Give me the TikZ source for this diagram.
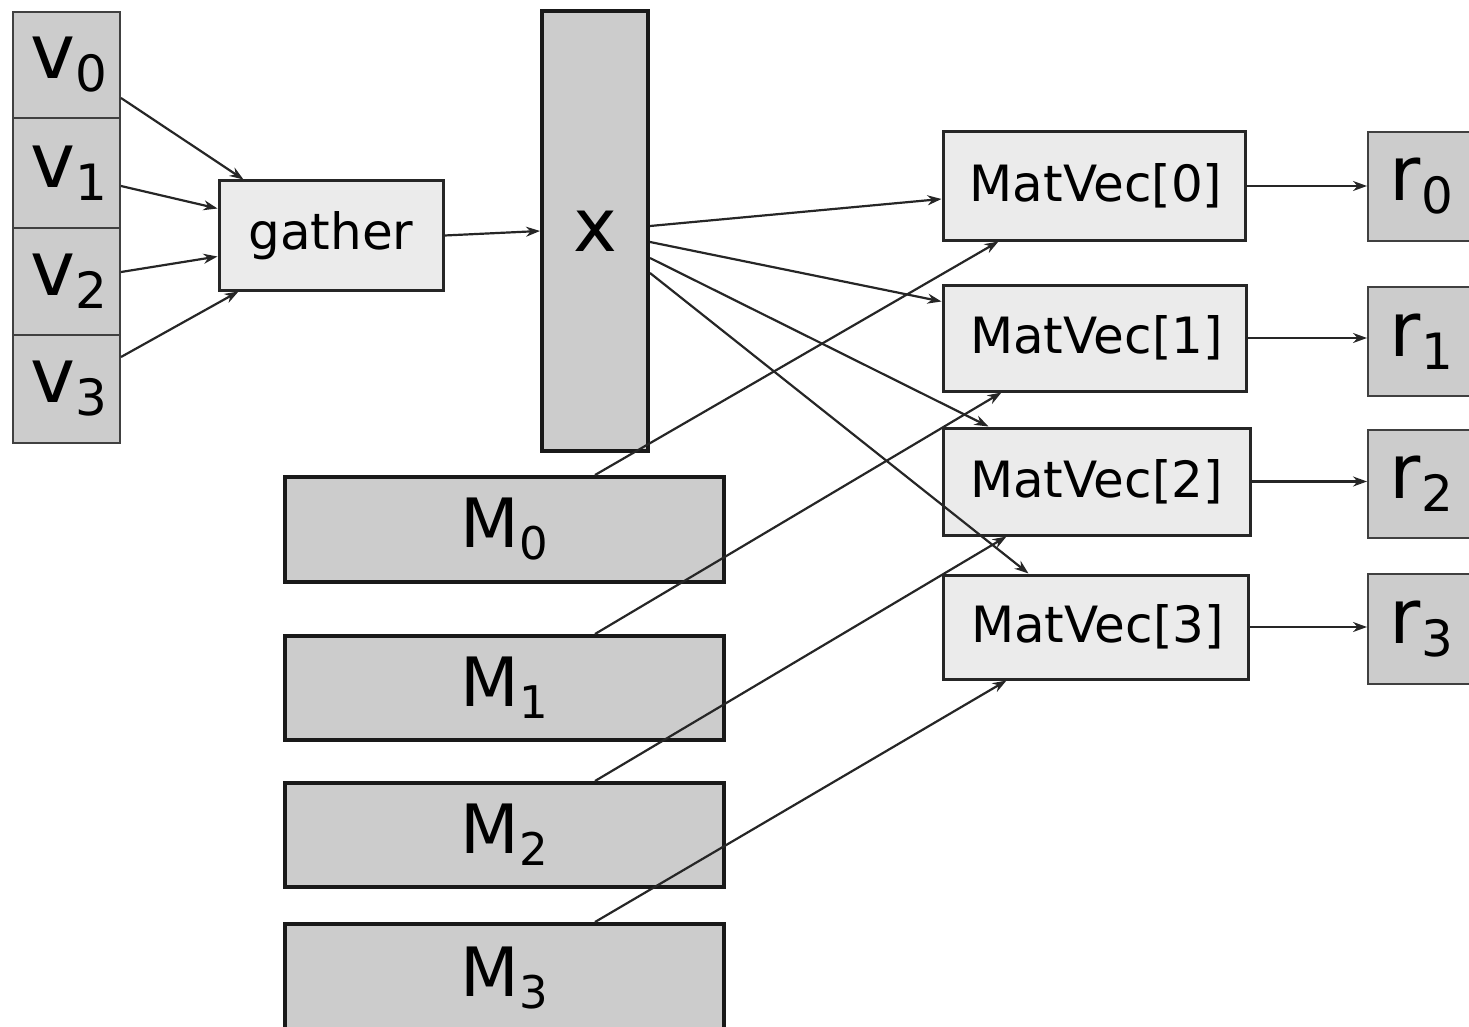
\documentclass[tikz,border=0pt]{standalone}
\usepackage{fontspec}
\setmainfont{DejaVu Sans}
\usetikzlibrary{arrows.meta}
\definecolor{cdark}{HTML}{CCCCCC}
\definecolor{clight}{HTML}{EBEBEB}
\newcommand\vlab[1]{{\fontsize{76}{80}\selectfont v\raisebox{-13pt}{\fontsize{50}{50}\selectfont #1}}}
\newcommand\rlab[1]{{\fontsize{76}{80}\selectfont r\raisebox{-13pt}{\fontsize{50}{50}\selectfont #1}}}
\newcommand\mlab[1]{{\fontsize{68}{72}\selectfont M\raisebox{-12pt}{\fontsize{45}{45}\selectfont #1}}}
\begin{document}
\begin{tikzpicture}[x=1pt,y=-1pt,
  cellbox/.style={draw=black!75, line width=2pt, fill=cdark, minimum width=107pt, inner sep=0pt},
  procbox/.style={draw=black!85, line width=3pt, fill=clight, inner sep=0pt, font=\fontsize{50}{56}\selectfont},
  databox/.style={draw=black!90, line width=4pt, fill=cdark, inner sep=0pt},
  conn/.style={line width=2.2pt, draw=black!85, -{Stealth[length=14pt,width=10pt]}}
]
\useasboundingbox (0,0) rectangle (1469,1027);
% v cells
\node[cellbox, minimum height=106pt] (v0) at (66.5,65) {\hspace{4pt}\vlab{0}};
\node[cellbox, minimum height=110pt] (v1) at (66.5,173) {\hspace{4pt}\vlab{1}};
\node[cellbox, minimum height=107pt] (v2) at (66.5,281.5) {\hspace{4pt}\vlab{2}};
\node[cellbox, minimum height=108pt] (v3) at (66.5,389) {\hspace{4pt}\vlab{3}};
% gather
\node[procbox, minimum width=224pt, minimum height=109pt] (g) at (331,235.5) {gather};
% x
\node[databox, minimum width=106pt, minimum height=440pt] (X) at (595,231) {\raisebox{-4pt}{\fontsize{74}{78}\selectfont x}};
% M blocks
\node[databox, minimum width=439pt, minimum height=105pt] (M0) at (504.5,529.5) {\mlab{0}};
\node[databox, minimum width=439pt, minimum height=104pt] (M1) at (504.5,688) {\mlab{1}};
\node[databox, minimum width=439pt, minimum height=104pt] (M2) at (504.5,835) {\mlab{2}};
\node[databox, minimum width=439pt, minimum height=108pt] (M3) at (504.5,978) {\mlab{3}};
% MatVec
\node[procbox, minimum width=302pt, minimum height=108pt] (m0) at (1094,186) {\hspace{4pt}MatVec[0]};
\node[procbox, minimum width=303pt, minimum height=106pt] (m1) at (1094.5,338) {\hspace{4pt}MatVec[1]};
\node[procbox, minimum width=307pt, minimum height=107pt] (m2) at (1096.5,481.5) {MatVec[2]};
\node[procbox, minimum width=305pt, minimum height=104pt] (m3) at (1095.5,627) {\hspace{4pt}MatVec[3]};
% r cells
\node[cellbox, minimum height=109pt] (r0) at (1421.5,186.5) {\rlab{0}};
\node[cellbox, minimum height=109pt] (r1) at (1421.5,341.5) {\rlab{1}};
\node[cellbox, minimum height=108pt] (r2) at (1421.5,484) {\rlab{2}};
\node[cellbox, minimum height=110pt] (r3) at (1421.5,629) {\rlab{3}};
% v -> gather
\draw[conn] ([yshift=-33pt]v0.east) -- ([xshift=26pt]g.north west);
\draw[conn] ([yshift=-13pt]v1.east) -- ([yshift=-29pt]g.north west);
\draw[conn] ([yshift=9.5pt]v2.east) -- ([yshift=35pt]g.south west);
\draw[conn] ([yshift=32pt]v3.east) -- ([xshift=21pt]g.south west);
% gather -> x
\draw[conn] (g.east) -- (X.west);
% x -> MatVec
\draw[conn] ([yshift=5pt]X.east) -- ([yshift=-13pt]m0.west);
\draw[conn] ([yshift=-11pt]X.east) -- ([yshift=-18pt]m1.north west);
\draw[conn] ([yshift=-27pt]X.east) -- ([xshift=47pt]m2.north west);
\draw[conn] ([yshift=-42pt]X.east) -- ([xshift=87pt]m3.north west);
% M -> MatVec
\draw[conn] ([xshift=90.5pt]M0.north) -- ([xshift=57pt]m0.south west);
\draw[conn] ([xshift=90.5pt]M1.north) -- ([xshift=60pt]m1.south west);
\draw[conn] ([xshift=90.5pt]M2.north) -- ([xshift=65pt]m2.south west);
\draw[conn] ([xshift=90.5pt]M3.north) -- ([xshift=65pt]m3.south west);
% MatVec -> r
\draw[conn] (m0.east) -- (m0.east -| r0.west);
\draw[conn] (m1.east) -- (m1.east -| r1.west);
\draw[conn] (m2.east) -- (m2.east -| r2.west);
\draw[conn] (m3.east) -- (m3.east -| r3.west);
\end{tikzpicture}
\end{document}
